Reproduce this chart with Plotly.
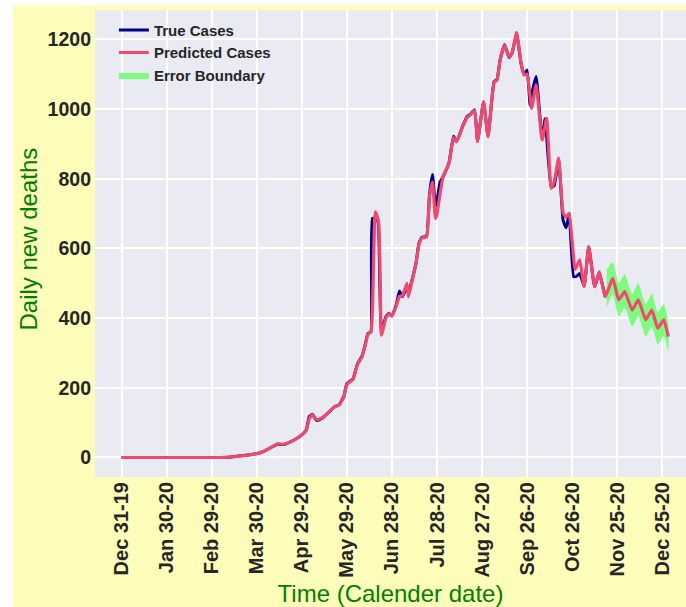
import pandas as pd
import plotly.graph_objs as go

# days counted from Dec 31 2019
start = pd.Timestamp("2019-12-31")

true_days = [0, 40, 65, 72, 78, 84, 90, 95, 100, 104, 108, 112, 116, 120, 123, 125, 127, 130,
             134, 138, 142, 145, 148, 150, 154, 157, 160, 162, 164, 166, 167, 170, 171, 173,
             176, 178, 180, 183, 185, 187, 190, 191, 194, 196, 198, 200, 203, 205, 207, 209,
             210, 212, 214, 218, 221, 223, 227, 230, 232, 235, 237, 241, 244, 248, 250, 252,
             255, 258, 260, 263, 266, 268, 270, 272, 273, 276, 280, 282, 286, 288, 291, 294,
             296, 298, 301, 303, 305, 308, 311, 315, 318, 322]
true_vals = [0, 0, 0, 1, 4, 7, 11, 18, 30, 38, 37, 44, 53, 65, 80, 118, 124, 106,
             114, 130, 146, 152, 176, 212, 225, 268, 290, 320, 356, 360, 686, 684, 670, 365,
             404, 414, 406, 440, 478, 462, 489, 470, 520, 557, 615, 632, 634, 755, 812, 720,
             736, 790, 805, 846, 922, 906, 950, 978, 984, 998, 908, 1020, 922, 1078, 1085, 1140,
             1184, 1148, 1160, 1215, 1130, 1098, 1112, 1010, 1040, 1093, 912, 972, 775, 780, 855, 680,
             659, 700, 519, 520, 528, 492, 605, 490, 530, 461]

pred_days = [0, 40, 65, 72, 78, 84, 90, 95, 100, 104, 108, 112, 116, 120, 123, 125, 127, 130,
             134, 138, 142, 145, 148, 150, 154, 157, 160, 162, 164, 166, 167, 169, 171, 172,
             173, 176, 178, 180, 183, 185, 187, 190, 191, 194, 196, 198, 200, 203, 205, 207,
             209, 210, 214, 218, 221, 223, 227, 230, 232, 235, 237, 241, 244, 248, 250, 252,
             255, 258, 260, 263, 266, 268, 270, 273, 276, 280, 283, 286, 288, 291, 294, 296,
             298, 302, 305, 308, 311, 315, 318, 322, 327, 331, 335, 340, 344, 349, 353, 357,
             361, 364]
pred_vals = [0, 0, 0, 1, 4, 7, 11, 18, 30, 39, 38, 44, 53, 65, 78, 112, 123, 108,
             115, 131, 146, 151, 174, 210, 224, 266, 288, 318, 354, 360, 420, 705, 680, 560,
             351, 400, 412, 406, 436, 462, 465, 500, 461, 518, 555, 612, 630, 632, 748, 790,
             686, 700, 806, 844, 918, 906, 948, 975, 982, 996, 906, 1021, 920, 1076, 1083, 1141,
             1182, 1150, 1160, 1219, 1131, 1098, 1100, 1002, 1069, 911, 973, 772, 790, 859, 701, 690,
             701, 540, 567, 490, 605, 490, 533, 461, 514, 452, 476, 423, 452, 395, 423, 371,
             395, 347]

band_days = [323, 327, 331, 335, 340, 344, 349, 353, 357, 361, 364]
band_upper = [540, 560, 500, 525, 470, 500, 440, 470, 418, 440, 385]
band_lower = [430, 468, 405, 430, 376, 405, 348, 375, 325, 348, 305]


def to_dates(days):
    return start + pd.to_timedelta(days, unit="D")


fig = go.Figure()

bx = list(to_dates(band_days)) + list(to_dates(band_days[::-1]))
by = band_upper + band_lower[::-1]
fig.add_trace(go.Scatter(x=bx, y=by, fill="toself", fillcolor="#7DFC7D",
                         line=dict(width=0, color="#7DFC7D", shape="spline", smoothing=0.6),
                         mode="lines", name="Error Boundary", legendrank=3))
fig.add_trace(go.Scatter(x=to_dates(true_days), y=true_vals, mode="lines",
                         line=dict(color="#00008B", width=3, shape="spline", smoothing=0.4),
                         name="True Cases", legendrank=1))
fig.add_trace(go.Scatter(x=to_dates(pred_days), y=pred_vals, mode="lines",
                         line=dict(color="#EF4A6E", width=3.2, shape="spline", smoothing=0.4),
                         name="Predicted Cases", legendrank=2))

fig.update_layout(
    width=686, height=607,
    margin=dict(l=95, r=0, t=10, b=130),
    paper_bgcolor="white",
    plot_bgcolor="#EAEAF2",
    font=dict(family="Liberation Sans", color="#262626"),
    legend=dict(x=0.032, y=0.992, xanchor="left", yanchor="top",
                bgcolor="rgba(0,0,0,0)", font=dict(size=15, weight="bold"),
                tracegroupgap=0),
    shapes=[
        dict(type="rect", xref="paper", yref="paper", xsizemode="pixel", ysizemode="pixel",
             xanchor=0, yanchor=1, x0=-82, x1=700, y0=-620, y1=5,
             fillcolor="#FFFDBA", line=dict(width=0), layer="below"),
        dict(type="rect", xref="paper", yref="paper", x0=0, x1=1, y0=0, y1=1,
             fillcolor="#EAEAF2", line=dict(width=0), layer="below"),
    ],
    annotations=[
        dict(text="Daily new deaths", xref="paper", yref="paper", x=0, y=0.5,
             xanchor="center", yanchor="middle",
             xshift=-67, yshift=4, textangle=-90, showarrow=False,
             font=dict(size=24, color="green")),
    ],
)

fig.update_xaxes(
    type="date", automargin=False,
    range=["2019-12-13 07:00", "2021-01-09 19:00"],
    tick0="2019-12-31", dtick=30 * 86400000,
    tickformat="%b %d-%y", tickangle=-90,
    tickfont=dict(size=20, weight="bold", color="#262626"),
    showgrid=True, gridcolor="white", gridwidth=1.5,
    zeroline=False, showline=False,
    title=dict(text="Time (Calender date)", font=dict(size=24, color="green")),
)
fig.update_yaxes(
    automargin=False,
    range=[-56, 1284],
    tickvals=[0, 200, 400, 600, 800, 1000, 1200],
    tickfont=dict(size=19.5, weight="bold", color="#262626"),
    ticklabelstandoff=3,
    showgrid=True, gridcolor="white", gridwidth=1.5,
    zeroline=False, showline=False,
)

fig.write_html("out.html", config={"displayModeBar": False},
               post_script="document.body.style.margin='0';document.body.style.overflow='hidden';")
